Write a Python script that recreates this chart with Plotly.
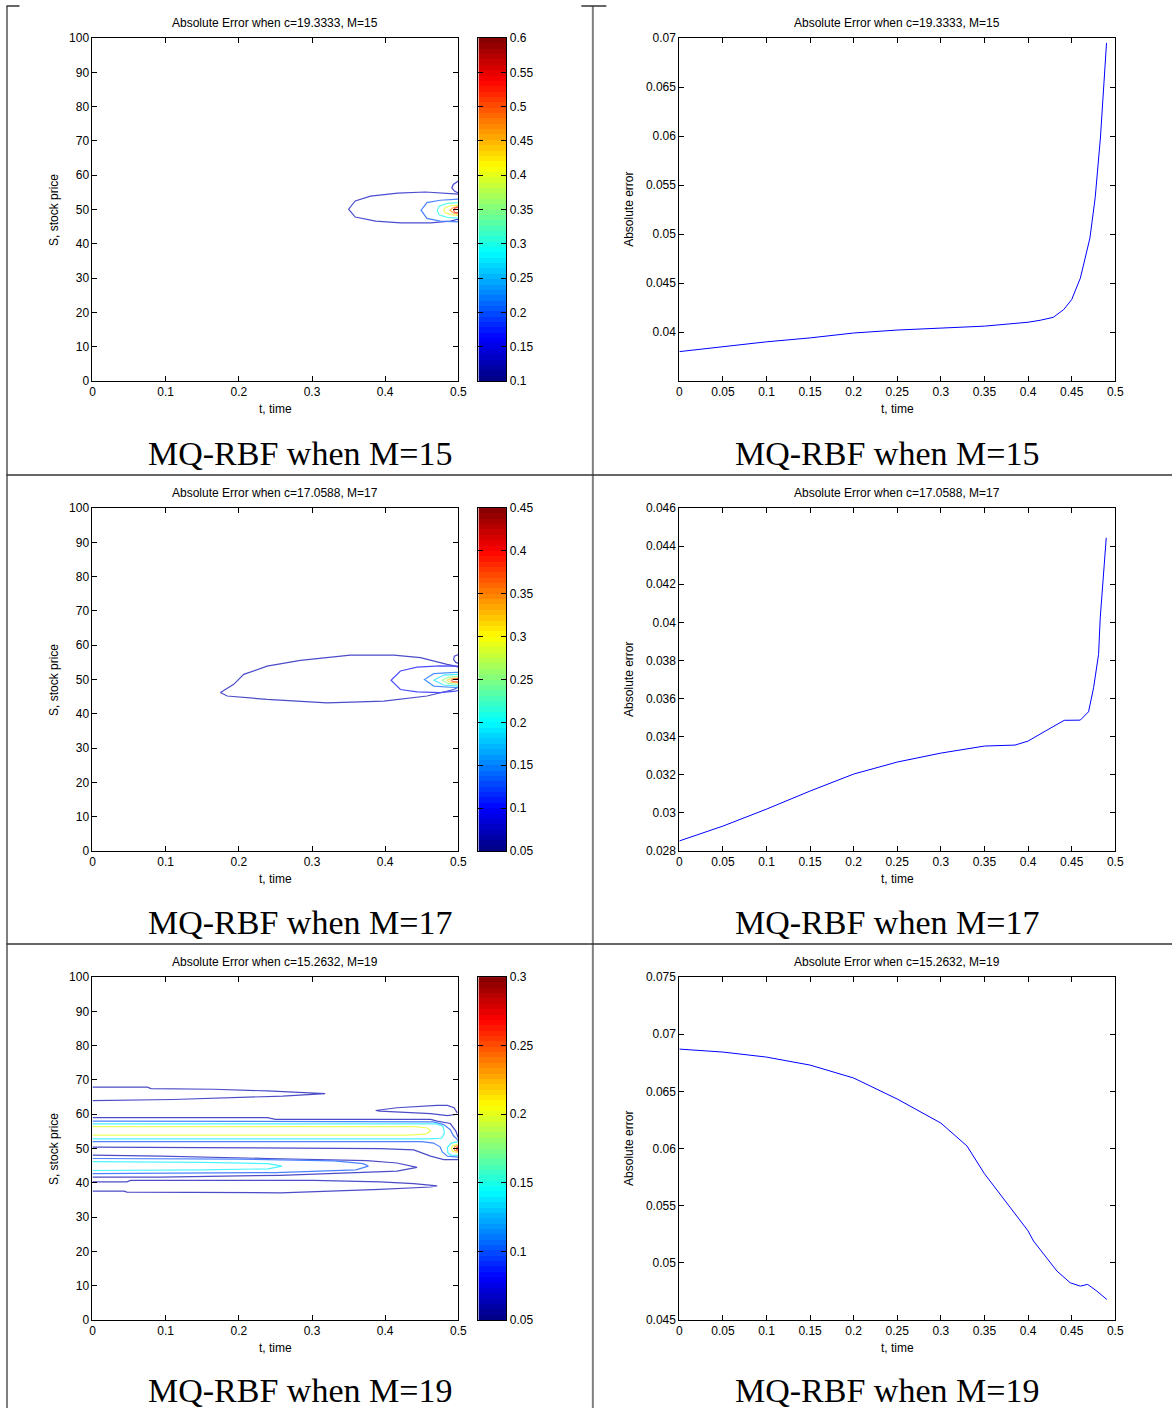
import numpy as np
import plotly.graph_objects as go

W, H = 1172, 1408

# ------------------------------------------------------------------ data
TITLES = [
    "Absolute Error when c=19.3333, M=15",
    "Absolute Error when c=17.0588, M=17",
    "Absolute Error when c=15.2632, M=19",
]
CAPTIONS = ["MQ-RBF when M=15", "MQ-RBF when M=17", "MQ-RBF when M=19"]

T_TICKS_COARSE = [0, 0.1, 0.2, 0.3, 0.4, 0.5]
T_TEXT_COARSE = ["0", "0.1", "0.2", "0.3", "0.4", "0.5"]
T_TICKS_FINE = [0, 0.05, 0.1, 0.15, 0.2, 0.25, 0.3, 0.35, 0.4, 0.45, 0.5]
T_TEXT_FINE = ["0", "0.05", "0.1", "0.15", "0.2", "0.25", "0.3", "0.35", "0.4", "0.45", "0.5"]
S_TICKS = [0, 10, 20, 30, 40, 50, 60, 70, 80, 90, 100]

# colour bar limits and ticks
CB15_RANGE = [0.1, 0.6]
CB15_TICKS = [0.1, 0.15, 0.2, 0.25, 0.3, 0.35, 0.4, 0.45, 0.5, 0.55, 0.6]
CB15_TEXT = ["0.1", "0.15", "0.2", "0.25", "0.3", "0.35", "0.4", "0.45", "0.5", "0.55", "0.6"]
CB17_RANGE = [0.05, 0.45]
CB17_TICKS = [0.05, 0.1, 0.15, 0.2, 0.25, 0.3, 0.35, 0.4, 0.45]
CB17_TEXT = ["0.05", "0.1", "0.15", "0.2", "0.25", "0.3", "0.35", "0.4", "0.45"]
CB19_RANGE = [0.05, 0.3]
CB19_TICKS = [0.05, 0.1, 0.15, 0.2, 0.25, 0.3]
CB19_TEXT = ["0.05", "0.1", "0.15", "0.2", "0.25", "0.3"]

# line plots: absolute error vs time
ERR15_T = [0, 0.05, 0.1, 0.15, 0.2, 0.25, 0.3, 0.35, 0.4, 0.414, 0.429, 0.441,
           0.450, 0.460, 0.471, 0.477, 0.483, 0.487, 0.490]
ERR15_V = [0.0380, 0.0385, 0.0390, 0.0394, 0.0399, 0.0402, 0.0404, 0.0406, 0.0410,
           0.0412, 0.0415, 0.0423, 0.0433, 0.0455, 0.0496, 0.0537, 0.0598, 0.0656, 0.0695]
ERR15_YRANGE = [0.035, 0.07]
ERR15_YTICKS = [0.04, 0.045, 0.05, 0.055, 0.06, 0.065, 0.07]
ERR15_YTEXT = ["0.04", "0.045", "0.05", "0.055", "0.06", "0.065", "0.07"]

ERR17_T = [0, 0.05, 0.1, 0.15, 0.2, 0.25, 0.3, 0.35, 0.385, 0.4, 0.42, 0.4415,
           0.4599, 0.4694, 0.4752, 0.4809, 0.4828, 0.4866, 0.4897]
ERR17_V = [0.02853, 0.02931, 0.0302, 0.03115, 0.03204, 0.03267, 0.03314, 0.03351,
           0.03356, 0.03377, 0.0343, 0.03486, 0.03487, 0.03531, 0.03657, 0.03832,
           0.04024, 0.04269, 0.04444]
ERR17_YRANGE = [0.028, 0.046]
ERR17_YTICKS = [0.028, 0.03, 0.032, 0.034, 0.036, 0.038, 0.04, 0.042, 0.044, 0.046]
ERR17_YTEXT = ["0.028", "0.03", "0.032", "0.034", "0.036", "0.038", "0.04", "0.042", "0.044", "0.046"]

ERR19_T = [0, 0.05, 0.1, 0.15, 0.2, 0.25, 0.3, 0.33, 0.35, 0.4, 0.4063, 0.4331,
           0.4484, 0.4599, 0.4683, 0.4790, 0.4904]
ERR19_V = [0.0687, 0.06844, 0.0680, 0.0673, 0.06617, 0.06433, 0.06223, 0.06022,
           0.0578, 0.0528, 0.05191, 0.04929, 0.04826, 0.04797, 0.04812, 0.04753, 0.0468]
ERR19_YRANGE = [0.045, 0.075]
ERR19_YTICKS = [0.045, 0.05, 0.055, 0.06, 0.065, 0.07, 0.075]
ERR19_YTEXT = ["0.045", "0.05", "0.055", "0.06", "0.065", "0.07", "0.075"]

# contour lines (t, S) for M=15
M15_OUTER_T = [0.5, 0.482, 0.455, 0.417, 0.380, 0.359, 0.350, 0.359, 0.387, 0.421, 0.462, 0.489, 0.5]
M15_OUTER_S = [54.5, 54.8, 55.1, 54.8, 53.9, 52.5, 50.1, 47.8, 46.6, 46.1, 46.1, 46.6, 47.2]
M15_BUMP_T = [0.5, 0.493, 0.491, 0.495, 0.5]
M15_BUMP_S = [58.3, 57.3, 56.3, 55.3, 54.8]
M15_BLUE_T = [0.5, 0.475, 0.457, 0.449, 0.457, 0.475, 0.5]
M15_BLUE_S = [53.0, 52.7, 52.0, 49.8, 47.4, 46.6, 46.4]
M15_CYAN_T = [0.5, 0.485, 0.474, 0.471, 0.474, 0.485, 0.5]
M15_CYAN_S = [52.0, 51.8, 51.0, 49.8, 48.4, 47.7, 47.5]
M15_YEL_T = [0.5, 0.49, 0.482, 0.48, 0.482, 0.49, 0.5]
M15_YEL_S = [51.3, 51.1, 50.6, 49.8, 49.0, 48.5, 48.3]
M15_ORG_T = [0.5, 0.493, 0.4885, 0.493, 0.5]
M15_ORG_S = [50.9, 50.6, 49.8, 49.0, 48.7]
M15_RED_T = [0.5, 0.495, 0.4935, 0.495, 0.5]
M15_RED_S = [50.6, 50.4, 49.8, 49.2, 49.0]
M15_LEVELS = [0.13, 0.13, 0.2, 0.3, 0.4, 0.47, 0.53]

# contour lines (t, S) for M=17
M17_OUTER_T = [0.5, 0.4959, 0.4846, 0.4481, 0.4116, 0.3525, 0.2842, 0.2386, 0.2067, 0.1930,
               0.1749, 0.184, 0.2386, 0.3206, 0.398, 0.4572, 0.4936, 0.5]
M17_OUTER_S = [53.6, 53.9, 54.4, 56.4, 57.1, 57.1, 55.6, 53.9, 51.5, 48.6,
               46.2, 45.2, 44.2, 43.2, 43.7, 45.2, 47.1, 47.8]
M17_BUMP_T = [0.5, 0.4945, 0.4935, 0.4965, 0.5]
M17_BUMP_S = [57.3, 56.8, 55.8, 55.0, 54.7]
M17_BLUE_T = [0.5, 0.4959, 0.4754, 0.4436, 0.4208, 0.408, 0.4208, 0.4436, 0.4754, 0.4959, 0.5]
M17_BLUE_S = [53.9, 53.9, 54.0, 53.6, 52.5, 49.8, 47.1, 46.4, 46.2, 46.6, 46.8]
M17_LBLUE_T = [0.5, 0.4959, 0.4663, 0.4536, 0.4663, 0.4959, 0.5]
M17_LBLUE_S = [52.1, 52.1, 51.7, 50.0, 48.1, 47.6, 47.6]
M17_CYAN_T = [0.5, 0.48, 0.4663, 0.48, 0.5]
M17_CYAN_S = [51.5, 51.3, 49.8, 48.4, 48.1]
M17_GRN_T = [0.5, 0.4868, 0.4777, 0.4868, 0.5]
M17_GRN_S = [50.9, 50.7, 49.8, 48.8, 48.6]
M17_ORG_T = [0.5, 0.489, 0.4845, 0.489, 0.5]
M17_ORG_S = [50.5, 50.3, 49.8, 49.2, 49.1]
M17_RED_T = [0.5, 0.4925, 0.4905, 0.4925, 0.5]
M17_RED_S = [50.3, 50.1, 49.8, 49.4, 49.3]
M17_LEVELS = [0.07, 0.07, 0.1, 0.14, 0.19, 0.25, 0.32, 0.39]

# contour lines (t, S) for M=19
M19_TOP_T = [0, 0.075, 0.08, 0.166, 0.239, 0.302, 0.318, 0.26, 0.17, 0.11, 0]
M19_TOP_S = [67.9, 67.9, 67.5, 67.3, 66.8, 66.3, 66.0, 65.3, 64.6, 64.3, 64.0]
M19_SMALL_T = [0.4985, 0.494, 0.485, 0.471, 0.416, 0.387, 0.393, 0.416, 0.462, 0.485, 0.4985]
M19_SMALL_S = [60.4, 61.9, 62.6, 62.6, 61.9, 61.1, 60.9, 60.7, 60.2, 59.6, 60.0]
M19_BAND_UP_T = [0, 0.239, 0.25, 0.462, 0.471, 0.489, 0.4965, 0.5]
M19_BAND_UP_S = [59.0, 59.0, 58.5, 58.5, 58.0, 57.3, 55.1, 53.0]
M19_BAND_LO_T = [0, 0.393, 0.439, 0.462, 0.48, 0.5]
M19_BAND_LO_S = [50.4, 50.0, 49.6, 47.8, 46.8, 46.8]
M19_BLUE_UP_T = [0, 0.466, 0.48, 0.489, 0.493, 0.5]
M19_BLUE_UP_S = [58.0, 57.8, 57.0, 55.5, 53.8, 52.3]
M19_BLUE_LO_T = [0, 0.45, 0.466, 0.475, 0.478, 0.485, 0.5]
M19_BLUE_LO_S = [52.0, 52.0, 51.6, 50.5, 49.0, 47.8, 47.5]
M19_CYAN_T = [0, 0.47, 0.479, 0.481, 0.477, 0.46, 0]
M19_CYAN_S = [57.2, 57.2, 56.5, 54.5, 53.0, 52.8, 52.8]
M19_CYAN2_T = [0.5, 0.49, 0.485, 0.4855, 0.49, 0.5]
M19_CYAN2_S = [52.0, 51.6, 50.3, 48.8, 48.1, 48.0]
M19_YEL_T = [0, 0.44, 0.458, 0.462, 0.455, 0.43, 0]
M19_YEL_S = [56.4, 56.4, 56.0, 55.1, 54.2, 53.9, 53.9]
M19_YEL2_T = [0.5, 0.492, 0.4905, 0.492, 0.5]
M19_YEL2_S = [51.3, 50.8, 50.0, 49.2, 48.8]
M19_ORG_T = [0.5, 0.495, 0.494, 0.495, 0.5]
M19_ORG_S = [50.9, 50.5, 50.0, 49.5, 49.2]
M19_RED_T = [0.5, 0.4975, 0.4975, 0.5]
M19_RED_S = [50.5, 50.2, 49.7, 49.5]
M19_TONGUE_T = [0, 0.093, 0.239, 0.375, 0.416, 0.4435, 0.416, 0.348, 0.257, 0.093, 0]
M19_TONGUE_S = [48.1, 47.8, 47.1, 46.5, 45.8, 44.5, 43.4, 42.9, 42.2, 41.7, 41.7]
M19_TBLUE_T = [0, 0.2, 0.33, 0.37, 0.377, 0.36, 0.25, 0]
M19_TBLUE_S = [47.1, 46.9, 46.4, 45.6, 44.9, 43.8, 43.0, 42.7]
M19_TCYAN_T = [0, 0.15, 0.24, 0.259, 0.24, 0.15, 0]
M19_TCYAN_S = [46.2, 46.0, 45.6, 44.9, 44.1, 43.8, 43.6]
M19_BOT_T = [0, 0.047, 0.052, 0.302, 0.393, 0.439, 0.471, 0.462, 0.393, 0.257, 0.047, 0.043, 0]
M19_BOT_S = [40.3, 40.3, 40.7, 40.7, 40.3, 39.8, 39.1, 38.8, 38.1, 37.1, 37.3, 37.6, 37.6]

CONTOURS = [
    (CB15_RANGE, [
        (M15_LEVELS[0], M15_OUTER_T, M15_OUTER_S),
        (M15_LEVELS[1], M15_BUMP_T, M15_BUMP_S),
        (M15_LEVELS[2], M15_BLUE_T, M15_BLUE_S),
        (M15_LEVELS[3], M15_CYAN_T, M15_CYAN_S),
        (M15_LEVELS[4], M15_YEL_T, M15_YEL_S),
        (M15_LEVELS[5], M15_ORG_T, M15_ORG_S),
        (M15_LEVELS[6], M15_RED_T, M15_RED_S),
    ]),
    (CB17_RANGE, [
        (M17_LEVELS[0], M17_OUTER_T, M17_OUTER_S),
        (M17_LEVELS[1], M17_BUMP_T, M17_BUMP_S),
        (M17_LEVELS[2], M17_BLUE_T, M17_BLUE_S),
        (M17_LEVELS[3], M17_LBLUE_T, M17_LBLUE_S),
        (M17_LEVELS[4], M17_CYAN_T, M17_CYAN_S),
        (M17_LEVELS[5], M17_GRN_T, M17_GRN_S),
        (M17_LEVELS[6], M17_ORG_T, M17_ORG_S),
        (M17_LEVELS[7], M17_RED_T, M17_RED_S),
    ]),
    (CB19_RANGE, [
        (0.062, M19_TOP_T, M19_TOP_S),
        (0.062, M19_SMALL_T, M19_SMALL_S),
        (0.062, M19_BAND_UP_T, M19_BAND_UP_S),
        (0.062, M19_BAND_LO_T, M19_BAND_LO_S),
        (0.1, M19_BLUE_UP_T, M19_BLUE_UP_S),
        (0.1, M19_BLUE_LO_T, M19_BLUE_LO_S),
        (0.14, M19_CYAN_T, M19_CYAN_S),
        (0.14, M19_CYAN2_T, M19_CYAN2_S),
        (0.2, M19_YEL_T, M19_YEL_S),
        (0.2, M19_YEL2_T, M19_YEL2_S),
        (0.24, M19_ORG_T, M19_ORG_S),
        (0.27, M19_RED_T, M19_RED_S),
        (0.062, M19_TONGUE_T, M19_TONGUE_S),
        (0.1, M19_TBLUE_T, M19_TBLUE_S),
        (0.14, M19_TCYAN_T, M19_TCYAN_S),
        (0.062, M19_BOT_T, M19_BOT_S),
    ]),
]
CB_TICKS = [(CB15_TICKS, CB15_TEXT), (CB17_TICKS, CB17_TEXT), (CB19_TICKS, CB19_TEXT)]
CB_RANGES = [CB15_RANGE, CB17_RANGE, CB19_RANGE]
LINES = [
    (ERR15_T, ERR15_V, ERR15_YRANGE, ERR15_YTICKS, ERR15_YTEXT),
    (ERR17_T, ERR17_V, ERR17_YRANGE, ERR17_YTICKS, ERR17_YTEXT),
    (ERR19_T, ERR19_V, ERR19_YRANGE, ERR19_YTICKS, ERR19_YTEXT),
]

# ------------------------------------------------------------------ style helpers
def jet(f):
    f = min(max(f, 0.0), 1.0)
    r = min(max(1.5 - abs(4 * f - 3), 0), 1)
    g = min(max(1.5 - abs(4 * f - 2), 0), 1)
    b = min(max(1.5 - abs(4 * f - 1), 0), 1)
    return r, g, b


def rgb(c, blend=0.0):
    return "rgb(%d,%d,%d)" % tuple(int(round(255 * (v * (1 - blend) + blend))) for v in c)


JET_SCALE = [[i / 64, rgb(jet(i / 64))] for i in range(65)]

FONT = "Liberation Sans, Arial, sans-serif"
SERIF = "Liberation Serif, Times New Roman, serif"

ROW_TOP = [37, 507, 976]
ROW_BOT = [380, 850, 1319]
CAPTION_Y = [452, 921, 1389]
CONT_X = [92, 458]
CB_X = [478, 506]
LINE_X = [679, 1115]

# the captured picture shows the page slightly scaled and shifted;
# these convert target picture pixels to paper fractions
SCALE, OFF_X, OFF_Y = 0.99, 2.5, 6.0


def px(x):
    return ((x - OFF_X) / SCALE) / W


def py(y):
    return 1 - ((y - OFF_Y) / SCALE) / H


axis_common = dict(showline=True, linecolor="black", linewidth=1, mirror="ticks",
                   ticks="inside", ticklen=5, tickcolor="black", tickwidth=1,
                   showgrid=False, zeroline=False,
                   tickfont=dict(family=FONT, size=12, color="black"))

fig = go.Figure()
layout = {}
annotations = []

for r in range(3):
    ydom = [py(ROW_BOT[r]), py(ROW_TOP[r])]
    ci = r + 1
    cb_i = r + 4
    li = r + 7
    rng, contours = CONTOURS[r]
    for lev, t, s in contours:
        f = (lev - rng[0]) / (rng[1] - rng[0])
        fig.add_trace(go.Scatter(x=t, y=s, mode="lines",
                                 line=dict(color=rgb(jet(f), 0.3), width=1.2),
                                 xaxis="x%d" % ci, yaxis="y%d" % ci,
                                 showlegend=False, hoverinfo="skip"))
    layout["xaxis%d" % ci] = dict(axis_common, domain=[px(CONT_X[0]), px(CONT_X[1])],
                                  anchor="y%d" % ci, range=[0, 0.5],
                                  tickvals=T_TICKS_COARSE, ticktext=T_TEXT_COARSE)
    layout["yaxis%d" % ci] = dict(axis_common, domain=ydom, anchor="x%d" % ci,
                                  range=[0, 100], tickvals=S_TICKS,
                                  ticktext=[str(v) for v in S_TICKS])
    # colour bar
    lo, hi = CB_RANGES[r]
    edges = np.linspace(lo, hi, 65)
    centers = (edges[:-1] + edges[1:]) / 2
    fig.add_trace(go.Heatmap(z=[[c] for c in centers], x=[0], y=centers,
                             colorscale=JET_SCALE, zmin=lo, zmax=hi, showscale=False,
                             xaxis="x%d" % cb_i, yaxis="y%d" % cb_i, hoverinfo="skip"))
    layout["xaxis%d" % cb_i] = dict(showline=True, linecolor="black", linewidth=1, mirror=True,
                                    domain=[px(CB_X[0]), px(CB_X[1])], anchor="y%d" % cb_i,
                                    range=[-0.5, 0.5], showticklabels=False, ticks="",
                                    showgrid=False, zeroline=False)
    ticks, text = CB_TICKS[r]
    layout["yaxis%d" % cb_i] = dict(axis_common, domain=ydom, anchor="x%d" % cb_i,
                                    side="right", range=[lo, hi], tickvals=ticks,
                                    ticktext=text, ticklabelstandoff=0)
    # line panel
    t, v, yr, yt, ytx = LINES[r]
    fig.add_trace(go.Scatter(x=t, y=v, mode="lines", line=dict(color="#0000ff", width=1),
                             xaxis="x%d" % li, yaxis="y%d" % li,
                             showlegend=False, hoverinfo="skip"))
    layout["xaxis%d" % li] = dict(axis_common, domain=[px(LINE_X[0]), px(LINE_X[1])],
                                  anchor="y%d" % li, range=[0, 0.5],
                                  tickvals=T_TICKS_FINE, ticktext=T_TEXT_FINE)
    layout["yaxis%d" % li] = dict(axis_common, domain=ydom, anchor="x%d" % li,
                                  range=yr, tickvals=yt, ticktext=ytx)

    # texts
    top, bot = ROW_TOP[r], ROW_BOT[r]
    for (x0, x1) in (CONT_X, LINE_X):
        annotations.append(dict(text=TITLES[r], x=px((x0 + x1) / 2), y=py(top - 15),
                                xref="paper", yref="paper", showarrow=False,
                                xanchor="center", yanchor="middle",
                                font=dict(family=FONT, size=12, color="black")))
        annotations.append(dict(text="t, time", x=px((x0 + x1) / 2), y=py(bot + 28),
                                xref="paper", yref="paper", showarrow=False,
                                xanchor="center", yanchor="middle",
                                font=dict(family=FONT, size=12, color="black")))
    annotations.append(dict(text="S, stock price", x=px(53), y=py((top + bot) / 2),
                            xref="paper", yref="paper", showarrow=False, textangle=-90,
                            xanchor="center", yanchor="middle",
                            font=dict(family=FONT, size=12, color="black")))
    annotations.append(dict(text="Absolute error", x=px(628), y=py((top + bot) / 2),
                            xref="paper", yref="paper", showarrow=False, textangle=-90,
                            xanchor="center", yanchor="middle",
                            font=dict(family=FONT, size=12, color="black")))
    for cx in (300, 887):
        annotations.append(dict(text=CAPTIONS[r], x=px(cx), y=py(CAPTION_Y[r]),
                                xref="paper", yref="paper", showarrow=False,
                                xanchor="center", yanchor="middle",
                                font=dict(family=SERIF, size=34, color="black")))

# table rules
shapes = []
def seg(x0, y0, x1, y1, color, width):
    shapes.append(dict(type="line", xref="paper", yref="paper",
                       x0=px(x0), y0=py(y0), x1=px(x1), y1=py(y1),
                       line=dict(color=color, width=width)))

seg(6.5, 5, 6.5, H + 20, "#7f7f7f", 2)
seg(6, 5, 19, 5, "#333333", 1.5)
seg(592.5, 5, 592.5, H + 20, "#7f7f7f", 2)
seg(581, 5, 606, 5, "#333333", 1.5)
seg(6, 474, W + 20, 474, "#333333", 1.5)
seg(6, 943, W + 20, 943, "#333333", 1.5)

fig.update_layout(width=W, height=H, margin=dict(l=0, r=0, t=0, b=0),
                  paper_bgcolor="white", plot_bgcolor="white",
                  annotations=annotations, shapes=shapes, **layout)

fig.write_html("out.html", config={"displayModeBar": False},
               post_script="document.body.style.margin='0px';document.body.style.overflow='hidden';")
